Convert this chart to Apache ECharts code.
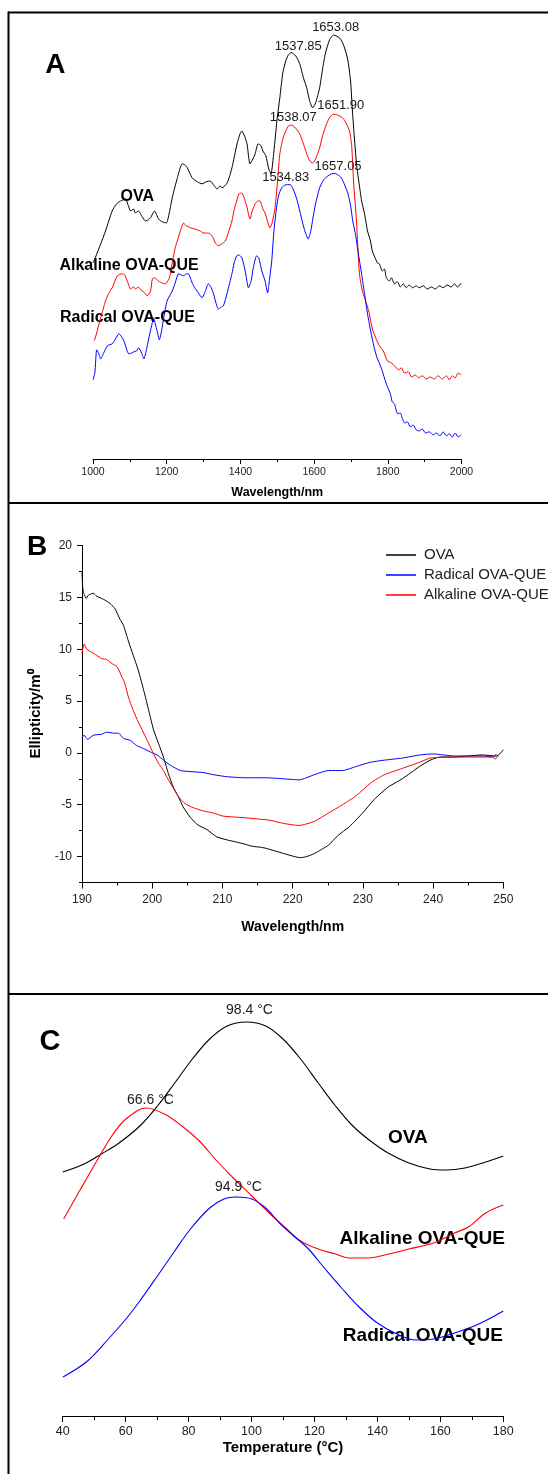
<!DOCTYPE html>
<html><head><meta charset="utf-8">
<script src="https://cdn.jsdelivr.net/npm/echarts@6/dist/echarts.min.js"></script>
<style>html,body{margin:0;padding:0;background:#fff}#c{width:548px;height:1474px}</style>
</head><body><div id="c"></div>
<script>
// ---------- Panel A : NIR spectra (arbitrary absorbance units) ----------
const nirOVA = [[1000,0.490],[1007,0.505],[1021,0.538],[1034,0.570],[1052,0.620],[1064,0.638],[1075,0.645],[1088,0.650],[1096,0.633],[1102,0.620],[1110,0.625],[1115,0.615],[1123,0.620],[1134,0.605],[1142,0.595],[1150,0.598],[1156,0.603],[1167,0.620],[1178,0.600],[1188,0.593],[1199,0.590],[1207,0.615],[1215,0.653],[1229,0.703],[1242,0.738],[1250,0.735],[1256,0.728],[1269,0.703],[1283,0.693],[1296,0.688],[1307,0.693],[1318,0.695],[1329,0.683],[1337,0.675],[1345,0.683],[1350,0.678],[1364,0.690],[1377,0.728],[1391,0.788],[1399,0.813],[1404,0.820],[1413,0.803],[1418,0.788],[1426,0.738],[1434,0.750],[1440,0.763],[1448,0.788],[1456,0.783],[1461,0.770],[1469,0.758],[1477,0.725],[1483,0.713],[1491,0.770],[1499,0.845],[1507,0.903],[1515,0.965],[1523,0.995],[1530,1.010],[1538,1.016],[1550,1.008],[1561,0.988],[1572,0.950],[1580,0.928],[1588,0.895],[1596,0.878],[1604,0.890],[1615,0.928],[1623,0.975],[1631,1.015],[1642,1.048],[1653,1.060],[1669,1.053],[1680,1.035],[1691,1.000],[1699,0.945],[1704,0.870],[1710,0.795],[1715,0.738],[1723,0.683],[1729,0.645],[1737,0.613],[1745,0.570],[1753,0.545],[1758,0.520],[1767,0.500],[1772,0.490],[1777,0.488],[1785,0.470],[1791,0.475],[1796,0.453],[1804,0.445],[1810,0.453],[1818,0.438],[1826,0.443],[1834,0.430],[1842,0.438],[1850,0.428],[1858,0.435],[1867,0.428],[1877,0.433],[1885,0.428],[1896,0.433],[1907,0.425],[1918,0.430],[1929,0.425],[1940,0.433],[1950,0.428],[1961,0.435],[1972,0.430],[1981,0.438],[1989,0.430],[1999,0.440]];
const nirAlkaline = [[1003,0.295],[1007,0.305],[1015,0.333],[1021,0.353],[1034,0.395],[1042,0.413],[1052,0.428],[1066,0.458],[1079,0.463],[1086,0.460],[1093,0.445],[1102,0.425],[1110,0.430],[1115,0.425],[1123,0.430],[1129,0.423],[1137,0.418],[1147,0.408],[1156,0.420],[1161,0.450],[1167,0.453],[1178,0.445],[1188,0.440],[1196,0.438],[1205,0.448],[1210,0.463],[1215,0.490],[1223,0.528],[1232,0.555],[1237,0.570],[1246,0.590],[1253,0.583],[1264,0.578],[1277,0.575],[1291,0.570],[1299,0.565],[1310,0.565],[1318,0.563],[1326,0.553],[1332,0.540],[1340,0.533],[1350,0.538],[1359,0.545],[1367,0.565],[1377,0.595],[1383,0.623],[1390,0.645],[1396,0.663],[1404,0.665],[1410,0.653],[1417,0.633],[1426,0.600],[1432,0.620],[1440,0.638],[1448,0.645],[1453,0.645],[1461,0.625],[1467,0.615],[1475,0.590],[1480,0.578],[1486,0.590],[1494,0.628],[1502,0.708],[1507,0.763],[1515,0.800],[1523,0.820],[1531,0.833],[1538,0.835],[1547,0.830],[1561,0.813],[1569,0.793],[1580,0.763],[1588,0.745],[1596,0.740],[1604,0.750],[1615,0.778],[1623,0.808],[1634,0.838],[1643,0.855],[1652,0.862],[1664,0.860],[1677,0.853],[1685,0.843],[1696,0.820],[1702,0.783],[1707,0.695],[1715,0.595],[1723,0.463],[1731,0.420],[1737,0.403],[1745,0.380],[1750,0.363],[1758,0.325],[1767,0.303],[1777,0.283],[1788,0.270],[1799,0.245],[1810,0.240],[1818,0.233],[1829,0.223],[1837,0.228],[1845,0.215],[1856,0.218],[1864,0.205],[1875,0.210],[1883,0.203],[1894,0.208],[1904,0.200],[1915,0.205],[1926,0.200],[1937,0.208],[1948,0.200],[1959,0.208],[1967,0.198],[1975,0.208],[1983,0.203],[1991,0.215],[1999,0.210]];
const nirRadical = [[1000,0.198],[1005,0.215],[1010,0.273],[1015,0.265],[1021,0.250],[1029,0.265],[1039,0.283],[1052,0.288],[1061,0.300],[1070,0.313],[1078,0.305],[1084,0.295],[1091,0.275],[1097,0.263],[1105,0.265],[1111,0.268],[1118,0.270],[1124,0.278],[1132,0.265],[1138,0.250],[1145,0.273],[1151,0.300],[1159,0.333],[1165,0.353],[1169,0.338],[1174,0.320],[1180,0.298],[1186,0.320],[1192,0.353],[1201,0.395],[1215,0.420],[1223,0.440],[1232,0.463],[1240,0.460],[1246,0.458],[1253,0.463],[1259,0.463],[1267,0.445],[1273,0.433],[1286,0.415],[1296,0.403],[1305,0.420],[1313,0.438],[1321,0.428],[1327,0.413],[1336,0.383],[1340,0.375],[1348,0.380],[1354,0.383],[1364,0.415],[1377,0.463],[1383,0.490],[1390,0.508],[1396,0.510],[1404,0.503],[1413,0.470],[1422,0.428],[1429,0.445],[1435,0.478],[1444,0.508],[1450,0.503],[1458,0.470],[1467,0.445],[1474,0.415],[1477,0.433],[1485,0.495],[1491,0.570],[1498,0.628],[1504,0.660],[1512,0.678],[1521,0.685],[1535,0.686],[1543,0.675],[1553,0.650],[1561,0.620],[1569,0.590],[1575,0.570],[1584,0.550],[1591,0.570],[1597,0.603],[1604,0.638],[1615,0.678],[1626,0.698],[1638,0.708],[1648,0.713],[1657,0.714],[1665,0.710],[1674,0.703],[1683,0.685],[1692,0.663],[1699,0.633],[1705,0.595],[1713,0.558],[1719,0.520],[1726,0.480],[1737,0.413],[1745,0.363],[1755,0.313],[1764,0.275],[1772,0.250],[1777,0.240],[1785,0.220],[1794,0.193],[1800,0.178],[1807,0.163],[1812,0.143],[1818,0.138],[1827,0.113],[1834,0.115],[1840,0.100],[1846,0.090],[1853,0.093],[1861,0.080],[1869,0.085],[1877,0.073],[1885,0.070],[1894,0.075],[1902,0.065],[1913,0.068],[1923,0.060],[1931,0.065],[1942,0.058],[1950,0.068],[1959,0.058],[1967,0.063],[1975,0.055],[1983,0.065],[1991,0.055],[1999,0.060]];
const nirPeaksOVA = [1537.85, 1653.08];
const nirPeaksAlkaline = [1538.07, 1651.90];
const nirPeaksRadical = [1534.83, 1657.05];

// ---------- Panel B : CD spectra (mdeg) ----------
const cdOVA = [[190.0,17.4],[190.1,16.0],[190.2,15.5],[190.6,14.9],[190.9,15.2],[191.6,15.4],[192.1,15.1],[193.1,14.8],[194.0,14.4],[194.7,13.9],[195.4,12.9],[195.9,12.3],[196.6,10.8],[197.3,9.4],[198.0,8.0],[198.8,6.0],[199.5,4.1],[200.2,2.2],[200.9,0.9],[201.6,-0.4],[202.3,-2.0],[203.0,-3.3],[203.7,-4.2],[204.4,-5.2],[205.4,-6.2],[206.4,-6.9],[207.8,-7.4],[209.2,-8.1],[210.7,-8.4],[212.0,-8.6],[213.2,-8.8],[214.2,-9.0],[215.4,-9.1],[216.2,-9.2],[218.7,-9.7],[221.1,-10.1],[222.0,-10.0],[223.1,-9.7],[225.1,-8.9],[226.4,-8.0],[228.1,-7.1],[230.1,-5.7],[231.6,-4.5],[233.6,-3.3],[235.6,-2.5],[238.1,-1.3],[239.6,-0.7],[241.0,-0.4],[243.0,-0.4],[245.0,-0.3],[247.0,-0.2],[249.0,-0.3],[249.5,-0.1],[250.0,0.3]];
const cdRadical = [[190.0,1.5],[190.3,1.7],[190.8,1.3],[191.6,1.7],[192.8,1.8],[193.5,2.0],[194.5,1.9],[195.2,1.9],[195.9,1.4],[196.9,1.2],[197.8,0.7],[198.8,0.4],[199.7,0.1],[200.7,-0.2],[201.6,-0.7],[202.6,-1.2],[204.0,-1.7],[205.4,-1.8],[207.3,-1.9],[208.7,-2.1],[210.7,-2.3],[213.2,-2.4],[216.2,-2.4],[218.7,-2.5],[220.9,-2.6],[223.1,-2.1],[225.1,-1.7],[227.1,-1.7],[229.1,-1.3],[231.1,-0.9],[233.1,-0.7],[235.6,-0.5],[238.1,-0.2],[240.0,-0.1],[243.0,-0.3],[247.0,-0.3],[248.6,-0.4],[249.0,-0.1]];
const cdAlkaline = [[190.0,9.6],[190.3,10.5],[190.7,10.0],[191.4,9.7],[192.1,9.4],[192.8,9.1],[193.5,9.0],[194.3,8.6],[195.0,8.3],[195.7,7.3],[196.1,6.7],[196.6,5.4],[197.3,4.1],[198.0,3.0],[198.8,1.9],[199.5,0.9],[200.2,-0.1],[200.9,-1.0],[201.6,-1.7],[202.3,-2.6],[203.0,-3.4],[203.7,-4.2],[204.7,-4.9],[205.9,-5.3],[207.3,-5.6],[208.7,-5.8],[210.1,-6.1],[212.0,-6.2],[213.9,-6.3],[215.4,-6.4],[216.8,-6.5],[218.7,-6.8],[220.9,-7.0],[223.1,-6.6],[225.1,-5.8],[227.1,-5.0],[229.1,-4.1],[231.1,-2.9],[233.1,-2.1],[235.6,-1.5],[238.1,-0.9],[239.6,-0.5],[243.0,-0.4],[247.0,-0.4],[248.5,-0.4],[248.8,-0.6],[249.3,-0.3]];
const cdYTicks = [-10, -5, 0, 5, 10, 15, 20];
const cdYMinorTicks = [-12.5, -7.5, -2.5, 2.5, 7.5, 12.5, 17.5];

// ---------- Panel C : DSC curves (arbitrary heat-flow units) ----------
const dscOVA = [[40,2.44],[46.8,2.52],[52.3,2.62],[57.9,2.73],[64.5,2.90],[70.1,3.10],[75.6,3.33],[81.2,3.57],[86.7,3.77],[92.3,3.90],[98.4,3.94],[104.5,3.90],[110.0,3.77],[115.6,3.57],[121.2,3.33],[126.7,3.10],[132.2,2.90],[137.8,2.75],[143.4,2.63],[150.0,2.53],[156.7,2.47],[161.7,2.46],[167.8,2.48],[174.4,2.54],[180,2.60]];
const dscAlkaline = [[40.3,1.97],[45.7,2.27],[51.2,2.57],[55.6,2.80],[60.1,2.97],[66.6,3.08],[72.3,3.02],[77.9,2.90],[83.4,2.75],[89.0,2.55],[94.5,2.37],[100.1,2.20],[105.6,2.03],[111.2,1.87],[115.6,1.75],[121.2,1.67],[126.7,1.62],[131.1,1.58],[136.7,1.58],[142.3,1.61],[150.0,1.67],[157.8,1.73],[164.5,1.83],[168.9,1.89],[174.4,2.03],[180,2.11]];
const dscRadical = [[40.1,0.39],[47.9,0.55],[54.5,0.77],[60.1,0.97],[64.5,1.15],[70.1,1.40],[75.6,1.65],[80.6,1.87],[86.7,2.08],[91.2,2.17],[94.9,2.19],[100.1,2.17],[104.5,2.08],[108.9,1.93],[113.4,1.80],[117.8,1.68],[123.4,1.47],[128.9,1.27],[134.5,1.08],[140.0,0.93],[145.6,0.83],[152.3,0.76],[157.8,0.77],[164.5,0.83],[172.2,0.92],[180,1.05]];
const dscPeakOVA = 98.4, dscPeakAlkaline = 66.6, dscPeakRadical = 94.9;

// ---------------------------------------------------------------------
const FONT = 'Arial, "Liberation Sans", Helvetica, sans-serif';
const BLACK = '#000000', RED = '#ff0000', BLUE = '#0000ff';
const plain = v => String(v);

function nearest(data, x) {
  let best = data[0];
  for (const p of data) if (Math.abs(p[0] - x) < Math.abs(best[0] - x)) best = p;
  return best;
}
function peakMarks(data, peaks, offsets, fmt, fontSize) {
  return {
    symbol: 'circle', symbolSize: 0, silent: true, animation: false,
    label: { show: true, position: 'inside', formatter: '{b}', color: '#1a1a1a', fontSize: fontSize, fontFamily: FONT },
    data: peaks.map((p, i) => ({ name: fmt(p), coord: nearest(data, p), label: { offset: offsets[i] } }))
  };
}

const chart = echarts.init(document.getElementById('c'), null, { renderer: 'canvas' });

const axisBase = (extra) => Object.assign({
  type: 'value',
  axisLine: { show: true, onZero: false, lineStyle: { color: '#000', width: 1 } },
  axisTick: { show: true, inside: false, lineStyle: { color: '#000' } },
  splitLine: { show: false },
  minorSplitLine: { show: false },
  nameLocation: 'middle',
  nameTextStyle: { fontWeight: 'bold', color: '#000', fontFamily: FONT }
}, extra);

const option = {
  animation: false,
  backgroundColor: '#fff',
  grid: [
    { left: 93, right: 86.5, top: 19, bottom: 1015 },
    { left: 82, right: 44.7, top: 545.5, bottom: 591.5 },
    { left: 62.7, right: 44.7, top: 1016, bottom: 58 }
  ],
  xAxis: [
    axisBase({ gridIndex: 0, min: 1000, max: 2000, interval: 200,
      axisTick: { show: true, length: 5, lineStyle: { color: '#000' } },
      minorTick: { show: true, splitNumber: 2, length: 3, lineStyle: { color: '#000' } },
      axisLabel: { fontSize: 10.5, color: '#222', margin: 8, fontFamily: FONT, formatter: plain },
      name: 'Wavelength/nm', nameGap: 27,
      nameTextStyle: { fontWeight: 'bold', fontSize: 12.5, color: '#000', fontFamily: FONT } }),
    axisBase({ gridIndex: 1, min: 190, max: 250, interval: 10,
      axisTick: { show: true, length: 6, lineStyle: { color: '#000' } },
      minorTick: { show: true, splitNumber: 2, length: 3, lineStyle: { color: '#000' } },
      axisLabel: { fontSize: 12, color: '#222', margin: 11, fontFamily: FONT, formatter: plain },
      name: 'Wavelength/nm', nameGap: 38,
      nameTextStyle: { fontWeight: 'bold', fontSize: 14, color: '#000', fontFamily: FONT } }),
    axisBase({ gridIndex: 2, min: 40, max: 180, interval: 20,
      axisTick: { show: true, length: 6, lineStyle: { color: '#000' } },
      minorTick: { show: true, splitNumber: 2, length: 4, lineStyle: { color: '#000' } },
      axisLabel: { fontSize: 12.5, color: '#222', margin: 9, fontFamily: FONT, formatter: plain },
      name: 'Temperature (°C)', nameGap: 24,
      nameTextStyle: { fontWeight: 'bold', fontSize: 15, color: '#000', fontFamily: FONT } })
  ],
  yAxis: [
    { type: 'value', gridIndex: 0, min: 0, max: 1.1, show: false },
    axisBase({ gridIndex: 1, min: -12.5, max: 20, position: 'left',
      axisTick: { show: true, length: 5, customValues: cdYTicks, lineStyle: { color: '#000' } },
      axisLabel: { fontSize: 12, color: '#222', margin: 10, customValues: cdYTicks, fontFamily: FONT, formatter: plain },
      name: 'Ellipticity/m⁰', nameGap: 35, nameRotate: 90,
      nameTextStyle: { fontWeight: 'bold', fontSize: 15, color: '#000', fontFamily: FONT } }),
    { type: 'value', gridIndex: 1, min: -12.5, max: 20, position: 'left',
      axisLine: { show: false }, axisLabel: { show: false }, splitLine: { show: false },
      axisTick: { show: true, length: 3, customValues: cdYMinorTicks, lineStyle: { color: '#000' } } },
    { type: 'value', gridIndex: 2, min: 0, max: 4, show: false }
  ],
  legend: {
    show: true, orient: 'vertical', left: 381, top: 540,
    itemWidth: 30, itemHeight: 1.5, itemGap: 0, icon: 'rect',
    textStyle: { fontSize: 15, color: '#222', lineHeight: 20, padding: [0, 0, 0, 3], fontFamily: FONT },
    data: ['OVA', 'Radical OVA-QUE', 'Alkaline OVA-QUE'],
    selectedMode: false
  },
  series: [
    // Panel A
    { name: 'OVA', type: 'line', xAxisIndex: 0, yAxisIndex: 0, data: nirOVA, showSymbol: false, symbol: 'none', smooth: 0.2,
      lineStyle: { color: BLACK, width: 1 }, itemStyle: { color: BLACK },
      markPoint: peakMarks(nirOVA, nirPeaksOVA, [[7, -6], [2, -8]], v => v.toFixed(2), 13) },
    { name: 'Alkaline OVA-QUE', type: 'line', xAxisIndex: 0, yAxisIndex: 0, data: nirAlkaline, showSymbol: false, symbol: 'none', smooth: 0.2,
      lineStyle: { color: RED, width: 1 }, itemStyle: { color: RED },
      markPoint: peakMarks(nirAlkaline, nirPeaksAlkaline, [[2, -8], [7.5, -8.5]], v => v.toFixed(2), 13) },
    { name: 'Radical OVA-QUE', type: 'line', xAxisIndex: 0, yAxisIndex: 0, data: nirRadical, showSymbol: false, symbol: 'none', smooth: 0.2,
      lineStyle: { color: BLUE, width: 1 }, itemStyle: { color: BLUE },
      markPoint: peakMarks(nirRadical, nirPeaksRadical, [[-4.5, -7.3], [3, -7]], v => v.toFixed(2), 13) },
    // Panel B
    { name: 'OVA', type: 'line', xAxisIndex: 1, yAxisIndex: 1, data: cdOVA, showSymbol: false, symbol: 'none', smooth: 0.2,
      lineStyle: { color: BLACK, width: 1 }, itemStyle: { color: BLACK } },
    { name: 'Radical OVA-QUE', type: 'line', xAxisIndex: 1, yAxisIndex: 1, data: cdRadical, showSymbol: false, symbol: 'none', smooth: 0.2,
      lineStyle: { color: BLUE, width: 1 }, itemStyle: { color: BLUE } },
    { name: 'Alkaline OVA-QUE', type: 'line', xAxisIndex: 1, yAxisIndex: 1, data: cdAlkaline, showSymbol: false, symbol: 'none', smooth: 0.2,
      lineStyle: { color: RED, width: 1 }, itemStyle: { color: RED } },
    // Panel C
    { name: 'OVA', type: 'line', xAxisIndex: 2, yAxisIndex: 3, data: dscOVA, showSymbol: false, symbol: 'none', smooth: 0.35,
      lineStyle: { color: BLACK, width: 1.1 }, itemStyle: { color: BLACK },
      markPoint: peakMarks(dscOVA, [dscPeakOVA], [[3, -12]], v => v + ' °C', 14) },
    { name: 'Alkaline OVA-QUE', type: 'line', xAxisIndex: 2, yAxisIndex: 3, data: dscAlkaline, showSymbol: false, symbol: 'none', smooth: 0.35,
      lineStyle: { color: RED, width: 1.1 }, itemStyle: { color: RED },
      markPoint: peakMarks(dscAlkaline, [dscPeakAlkaline], [[4, -8]], v => v + ' °C', 14) },
    { name: 'Radical OVA-QUE', type: 'line', xAxisIndex: 2, yAxisIndex: 3, data: dscRadical, showSymbol: false, symbol: 'none', smooth: 0.35,
      lineStyle: { color: BLUE, width: 1.1 }, itemStyle: { color: BLUE },
      markPoint: peakMarks(dscRadical, [dscPeakRadical], [[3, -10]], v => v + ' °C', 14) }
  ],
  graphic: [
    // frame
    { type: 'line', shape: { x1: 8.5, y1: 11.5, x2: 8.5, y2: 1474 }, style: { stroke: '#000', lineWidth: 2 }, silent: true },
    { type: 'line', shape: { x1: 8, y1: 12.5, x2: 548, y2: 12.5 }, style: { stroke: '#000', lineWidth: 2 }, silent: true },
    { type: 'line', shape: { x1: 8, y1: 503, x2: 548, y2: 503 }, style: { stroke: '#000', lineWidth: 2 }, silent: true },
    { type: 'line', shape: { x1: 8, y1: 994, x2: 548, y2: 994 }, style: { stroke: '#000', lineWidth: 2 }, silent: true },
    // panel letters
    { type: 'text', x: 55.4, y: 65, style: { text: 'A', font: 'bold 28px ' + FONT, fill: '#000', align: 'center', verticalAlign: 'middle' } },
    { type: 'text', x: 37, y: 547, style: { text: 'B', font: 'bold 28px ' + FONT, fill: '#000', align: 'center', verticalAlign: 'middle' } },
    { type: 'text', x: 50, y: 1042, style: { text: 'C', font: 'bold 29px ' + FONT, fill: '#000', align: 'center', verticalAlign: 'middle' } },
    // panel A curve names
    { type: 'text', x: 120.6, y: 196.7, style: { text: 'OVA', font: 'bold 16px ' + FONT, fill: '#000', align: 'left', verticalAlign: 'middle' } },
    { type: 'text', x: 59.4, y: 266, style: { text: 'Alkaline OVA-QUE', font: 'bold 16px ' + FONT, fill: '#000', align: 'left', verticalAlign: 'middle' } },
    { type: 'text', x: 60, y: 317.3, style: { text: 'Radical OVA-QUE', font: 'bold 16px ' + FONT, fill: '#000', align: 'left', verticalAlign: 'middle' } },
    // panel C curve names
    { type: 'text', x: 388, y: 1137.7, style: { text: 'OVA', font: 'bold 19px ' + FONT, fill: '#000', align: 'left', verticalAlign: 'middle' } },
    { type: 'text', x: 505, y: 1238.3, style: { text: 'Alkaline OVA-QUE', font: 'bold 19px ' + FONT, fill: '#000', align: 'right', verticalAlign: 'middle' } },
    { type: 'text', x: 503, y: 1336, style: { text: 'Radical OVA-QUE', font: 'bold 19px ' + FONT, fill: '#000', align: 'right', verticalAlign: 'middle' } }
  ]
};
chart.setOption(option);
</script>
</body></html>
